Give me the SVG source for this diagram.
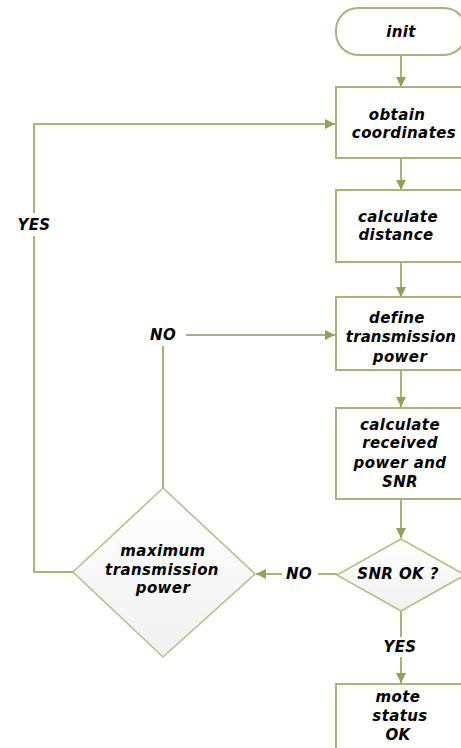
<svg xmlns="http://www.w3.org/2000/svg" width="461" height="748" viewBox="0 0 461 748">
<defs>
<marker id="ah" viewBox="0 0 10 10" refX="10" refY="5" markerWidth="10" markerHeight="10" markerUnits="userSpaceOnUse" orient="auto">
<path d="M0,0 L10,5 L0,10 z" fill="#8EA25A"/>
</marker>
<linearGradient id="dg" x1="0" y1="0" x2="0" y2="1">
<stop offset="0" stop-color="#ffffff"/>
<stop offset="1" stop-color="#f1f1f1"/>
</linearGradient>
</defs>
<style>
.n{fill:#ffffff;stroke:#A4B677;stroke-width:2}
.d{fill:url(#dg);stroke:#B2C28A;stroke-width:1.6}
.c{fill:none;stroke:#A4B677;stroke-width:2}
.a{marker-end:url(#ah)}
text{font-family:"DejaVu Sans",Verdana,sans-serif;font-weight:bold;font-style:italic;font-size:15px;letter-spacing:0.4px;fill:#000;text-anchor:middle}
</style>
<rect width="461" height="748" fill="#ffffff"/>
<g id="connectors">
<line class="c a" x1="401" y1="55" x2="401" y2="87"/>
<line class="c a" x1="401" y1="158" x2="401" y2="190"/>
<line class="c a" x1="401" y1="262" x2="401" y2="297"/>
<line class="c a" x1="401" y1="370" x2="401" y2="407"/>
<line class="c a" x1="401" y1="499" x2="401" y2="538"/>
<line class="c" x1="337" y1="574" x2="318" y2="574"/>
<line class="c a" x1="282" y1="574" x2="256" y2="574"/>
<line class="c" x1="401" y1="611" x2="401" y2="637"/>
<line class="c a" x1="401" y1="657" x2="401" y2="683"/>
<line class="c" x1="163" y1="488" x2="163" y2="346"/>
<line class="c a" x1="186" y1="335" x2="335" y2="335"/>
<polyline class="c" points="73,572 34,572 34,236"/>
<polyline class="c a" points="34,213 34,124 335,124"/>
<text x="34" y="230">YES</text>
<text x="163" y="340">NO</text>
<text x="299" y="579">NO</text>
<text x="400" y="652">YES</text>
</g>
<g id="init">
<rect class="n" x="336" y="8" width="130" height="47" rx="22" ry="22"/>
<text x="401" y="37">init</text>
</g>
<g id="obtain">
<rect class="n" x="336" y="87" width="130" height="71"/>
<text x="397" y="120">obtain</text>
<text x="404" y="138">coordinates</text>
</g>
<g id="distance">
<rect class="n" x="336" y="190" width="130" height="72"/>
<text x="398" y="222">calculate</text>
<text x="396" y="240">distance</text>
</g>
<g id="define">
<rect class="n" x="336" y="297" width="130" height="73"/>
<text x="397" y="323">define</text>
<text x="401" y="342" style="letter-spacing:0.1px">transmission</text>
<text x="400" y="362">power</text>
</g>
<g id="received">
<rect class="n" x="336" y="408" width="130" height="91"/>
<text x="400" y="430">calculate</text>
<text x="400" y="448">received</text>
<text x="400" y="468">power and</text>
<text x="400" y="487">SNR</text>
</g>
<g id="snr">
<polygon class="d" points="401,539 465,575 401,611 337,575"/>
<text x="398" y="579">SNR OK ?</text>
</g>
<g id="maxpower">
<polygon class="d" points="163,488 255,574 163,657 73,572"/>
<text x="163" y="556">maximum</text>
<text x="162" y="575">transmission</text>
<text x="163" y="593">power</text>
</g>
<g id="mote">
<rect class="n" x="336" y="684" width="130" height="70"/>
<text x="398" y="702">mote</text>
<text x="400" y="721">status</text>
<text x="398" y="740">OK</text>
</g>
</svg>
